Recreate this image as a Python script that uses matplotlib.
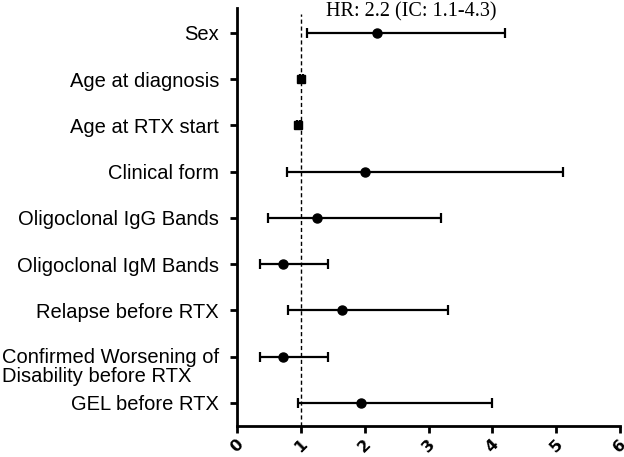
import matplotlib
matplotlib.use("Agg")
import matplotlib.pyplot as plt
import matplotlib.transforms as mtransforms
import numpy as np

categories = ["Sex", "Age at diagnosis", "Age at RTX start", "Clinical form",
              "Oligoclonal IgG Bands", "Oligoclonal IgM Bands", "Relapse before RTX",
              "Confirmed Worsening of\nDisability before RTX", "GEL before RTX"]
hr = [2.2, 1.01, 0.96, 2.0, 1.26, 0.72, 1.64, 0.72, 1.95]
ci_low = [1.1, 0.99, 0.94, 0.79, 0.49, 0.36, 0.80, 0.36, 0.95]
ci_high = [4.2, 1.03, 0.98, 5.1, 3.19, 1.42, 3.30, 1.42, 4.0]
markers = ["o", "s", "s", "o", "o", "o", "o", "o", "o"]
xticks = [0, 1, 2, 3, 4, 5, 6]
annotation = "HR: 2.2 (IC: 1.1-4.3)"

fig = plt.figure(figsize=(6.24, 4.57), dpi=100)
ax = fig.add_axes([237/624, 1-426/457, (620-237)/624, (426-8)/457])

ypos = np.arange(len(categories))
for i in range(len(categories)):
    lo = hr[i] - ci_low[i]
    hi = ci_high[i] - hr[i]
    ax.errorbar(hr[i], ypos[i], xerr=[[lo], [hi]], fmt=markers[i], color="black",
                ecolor="black", elinewidth=1.6, capsize=3.3, capthick=1.6,
                markersize=6.5 if markers[i] == "o" else 6, zorder=3)

ax.axvline(1, ymin=0, ymax=0.985, color="black", linestyle=(0, (3, 2)), linewidth=1.0, zorder=1)

ax.set_xlim(0, 6)
ax.set_ylim(8.5, -0.54)
ax.set_xticks(xticks)
ax.set_xticklabels([str(t) for t in xticks], rotation=45, ha="center", va="top",
                   fontsize=11.5, fontweight="bold", family="DejaVu Sans")
ax.set_yticks(ypos)
ax.set_yticklabels(categories, fontsize=14.5, family="Liberation Sans")

for spine in ["top", "right"]:
    ax.spines[spine].set_visible(False)
for spine in ["left", "bottom"]:
    ax.spines[spine].set_linewidth(2.0)

ax.tick_params(axis="y", direction="out", length=5, width=2.0, pad=8)
ax.tick_params(axis="x", direction="out", length=5, width=2.0, pad=3)

# multi-line label: first line at tick, second line below, left aligned
lbl = ax.get_yticklabels()[7]
lbl.set_multialignment("left")
lbl.set_linespacing(1.0)
lbl.set_va("top")
lbl.set_transform(lbl.get_transform() + mtransforms.ScaledTranslation(0, 6/72, fig.dpi_scale_trans))

fig.text(411.7/624, 1-12/457, annotation, ha="center", va="center",
         fontsize=14.5, family="Liberation Serif")

fig.savefig("out.png", dpi=100)
